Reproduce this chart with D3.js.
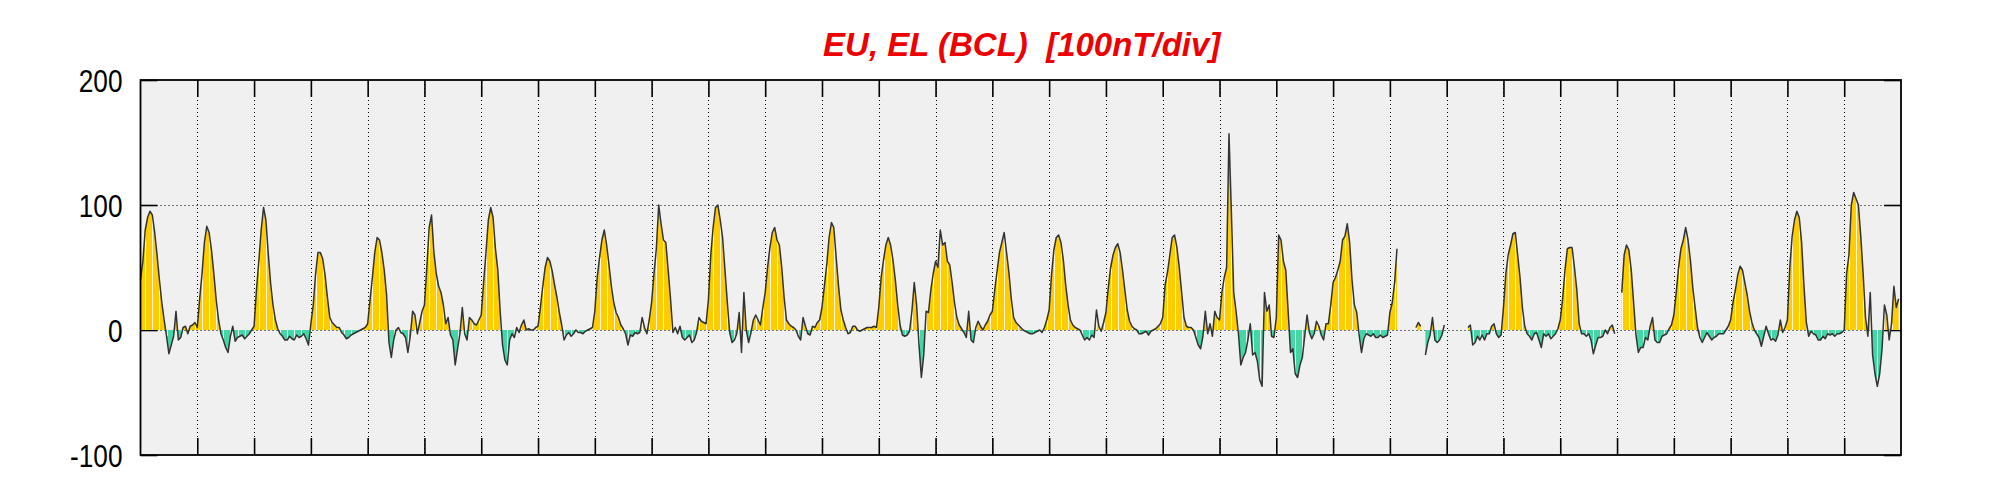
<!DOCTYPE html>
<html>
<head>
<meta charset="utf-8">
<script src="https://cdn.jsdelivr.net/npm/d3@7"></script>
<style>
  html, body { margin: 0; padding: 0; background: #ffffff; }
  svg { display: block; }
  text { white-space: pre; }
</style>
</head>
<body>
<svg id="chart" width="2001" height="500"></svg>
<script>
// ---- Data (hourly EU/EL values, nT, 31 days; null = missing) ----
const title = "EU, EL (BCL)  [100nT/div]";
const yTickValues = [-100, 0, 100, 200];
const yTickLabels = ["-100", "0", "100", "200"];
const dayBoundaries = d3.range(1, 31);   // day separators
const hoursPerDay = 24;
const nDays = 31;

const values = [
  // day 1
  40,55,80,90,95,92,78,60,40,22,8,-5,-19,-12,-5,15,-8,-6,2,3,-3,3,4,6,
  // day 2
  2,25,45,70,83,78,64,45,24,8,-3,-8,-14,-18,-5,3,-9,-6,-5,-4,-7,-5,-3,0,
  // day 3
  3,32,55,80,98,88,61,37,20,8,1,-3,-5,-8,-8,-5,-7,-8,-4,-6,-5,-3,-7,-12,
  // day 4
  5,20,45,62,62,57,44,26,10,6,4,2,2,-2,-4,-7,-6,-4,-3,-2,-1,0,1,2,
  // day 5
  5,24,42,62,74,72,62,48,28,-10,-22,-8,0,2,-2,-3,-6,-18,-5,15,12,-3,6,15,
  // day 6
  20,50,82,92,62,45,35,30,20,5,10,-4,-8,-28,-15,-3,18,-3,-8,10,8,5,4,8,
  // day 7
  12,38,62,88,98,90,65,48,15,-12,-24,-28,-8,-3,-6,2,-2,4,8,0,1,0,0,2,
  // day 8
  3,18,35,50,58,55,47,36,26,14,4,-8,-4,-2,-5,-3,0,-2,-2,-3,-1,0,1,2,
  // day 9
  15,42,58,72,80,68,52,35,22,14,10,4,1,-3,-12,-4,-5,-2,-3,-2,10,2,-3,8,
  // day 10
  22,45,65,100,85,72,70,48,25,-2,2,-3,3,-6,-8,-6,-4,-10,-8,-2,10,7,6,5,
  // day 11
  24,60,82,98,100,88,74,48,22,-2,-10,-8,-3,14,-18,30,0,-10,-2,8,12,8,4,18,
  // day 12
  30,50,66,78,82,72,68,50,26,8,5,3,2,0,-5,-8,10,3,-3,-4,3,2,6,8,
  // day 13
  18,35,52,74,86,82,58,35,16,8,2,-3,-2,3,3,0,-1,0,1,2,2,2,3,2,
  // day 14
  18,42,56,68,74,68,56,40,20,4,-4,-5,-4,-1,15,38,20,-12,-38,-20,15,14,32,45,
  // day 15
  55,50,80,68,70,55,52,38,22,10,4,1,-2,-6,15,-8,-10,2,7,3,0,4,7,12,
  // day 16
  15,32,47,62,70,78,62,46,25,10,6,4,2,0,-1,-2,-3,-3,-2,-1,0,-2,2,8,
  // day 17
  16,44,64,74,76,70,56,36,20,8,4,2,1,0,-4,-8,-6,-8,-4,-6,16,3,-1,6,
  // day 18
  14,34,50,60,66,69,62,48,32,16,7,3,1,0,-3,-3,-2,-1,-4,-1,0,1,3,5,
  // day 19
  10,36,46,60,74,76,66,50,30,10,3,2,2,0,-6,-12,-15,-5,15,-3,5,-5,15,10,
  // day 20
  8,30,42,50,157,95,30,15,-3,-28,-22,-18,-8,5,-20,-18,-25,-40,-45,30,15,20,-5,-6,
  // day 21
  10,76,72,55,48,15,-18,-15,-35,-38,-28,-22,-5,12,-2,-7,-3,7,3,-4,-8,5,5,20,
  // day 22
  38,42,48,55,72,75,85,70,40,20,14,-4,-18,-7,-3,-4,-5,-3,-6,-6,-4,-6,-5,-4,
  // day 23
  14,22,38,65,null,null,null,null,null,null,null,2,6,3,null,-20,-10,-4,10,-8,-10,-8,-4,4,
  // day 24
  null,null,null,null,null,null,null,null,null,2,4,-12,-10,-5,-8,-4,-8,-3,-3,3,5,-3,-6,-4,
  // day 25
  18,45,60,68,77,78,60,42,18,3,-3,-5,-8,-3,-2,-8,-14,-3,-5,-3,-7,-5,-3,1,
  // day 26
  8,25,48,65,66,66,50,32,5,-3,-3,-5,-3,-8,-19,-12,-6,-6,-5,0,-3,2,4,-3,
  // day 27
  null,null,30,60,68,64,48,22,-4,-18,-14,-14,-6,-8,3,10,-8,-10,-10,-5,-4,-3,1,4,
  // day 28
  12,30,50,65,72,82,72,56,34,18,2,-6,-10,-6,-2,-5,-8,-6,-5,-3,-3,-3,0,3,
  // day 29
  8,22,32,44,51,48,38,28,15,6,0,-3,-6,-13,-5,3,-3,-8,-7,-9,-4,8,-2,2,
  // day 30
  8,50,75,88,95,90,70,35,6,-5,-1,-3,-4,-8,-8,-5,-7,-3,-4,-3,-5,-3,-3,-2,
  // day 31
  0,45,60,100,110,105,100,75,45,10,-5,30,-20,-35,-45,-35,-15,20,12,-8,5,35,18,25
];

// ---- Layout ----
const plot = { left: 140.5, right: 1901, top: 80, bottom: 455 };
const colors = {
  bg: "#f0f0f0", pos: "#ffcc00", neg: "#44d6a6", line: "#333333",
  title: "#ee0000", stripe: "#ffffff"
};
const labelScaleX = 0.82;

const svg = d3.select("#chart");
const data = values.map((v, i) => ({ h: i, v: v }));

const x = d3.scaleLinear().domain([0, nDays * hoursPerDay]).range([plot.left, plot.right]);
const y = d3.scaleLinear().domain([-100, 200]).range([plot.bottom, plot.top]);

// background
svg.append("rect")
  .attr("x", plot.left).attr("y", plot.top)
  .attr("width", plot.right - plot.left).attr("height", plot.bottom - plot.top)
  .attr("fill", colors.bg);

// dotted grid
const grid = svg.append("g").attr("stroke", "#000").attr("stroke-width", 1)
  .attr("stroke-dasharray", "1,3").attr("fill", "none");
grid.selectAll("line.v").data(dayBoundaries).join("line").attr("class", "v")
  .attr("x1", d => Math.round(x(d * hoursPerDay)) + 0.5)
  .attr("x2", d => Math.round(x(d * hoursPerDay)) + 0.5)
  .attr("y1", plot.top).attr("y2", plot.bottom);
grid.selectAll("line.h").data([0, 100]).join("line").attr("class", "h")
  .attr("y1", d => Math.round(y(d)) + 0.5).attr("y2", d => Math.round(y(d)) + 0.5)
  .attr("x1", plot.left).attr("x2", plot.right);

// ticks (inside) via axes
const tickLen = 17;
const axTop = svg.append("g").attr("transform", `translate(0,${plot.top})`)
  .call(d3.axisTop(x).tickValues(dayBoundaries.map(d => d * hoursPerDay)).tickSize(-tickLen).tickFormat(""));
const axBot = svg.append("g").attr("transform", `translate(0,${plot.bottom})`)
  .call(d3.axisBottom(x).tickValues(dayBoundaries.map(d => d * hoursPerDay)).tickSize(-tickLen).tickFormat(""));
const axRight = svg.append("g").attr("transform", `translate(${plot.right},0)`)
  .call(d3.axisRight(y).tickValues(yTickValues).tickSize(-tickLen).tickFormat(""));
const axLeft = svg.append("g").attr("transform", `translate(${plot.left},0)`)
  .call(d3.axisLeft(y).tickValues(yTickValues).tickSize(-tickLen).tickPadding(18)
    .tickFormat(d => yTickLabels[yTickValues.indexOf(d)]));
[axTop, axBot, axRight, axLeft].forEach(g => {
  g.select(".domain").remove();
  g.selectAll(".tick line").attr("stroke", "#000").attr("stroke-width", 1.6);
});
axLeft.selectAll(".tick text")
  .attr("fill", "#000")
  .attr("font-family", "'Liberation Sans', Arial, Helvetica, sans-serif")
  .attr("font-size", 32)
  .attr("x", -18 / labelScaleX)
  .attr("transform", `scale(${labelScaleX},1)`)
  .attr("dy", "0.36em");

// clip paths for positive / negative fill
const defs = svg.append("defs");
defs.append("clipPath").attr("id", "clipPos").append("rect")
  .attr("x", plot.left).attr("y", plot.top)
  .attr("width", plot.right - plot.left).attr("height", y(0) - plot.top);
defs.append("clipPath").attr("id", "clipNeg").append("rect")
  .attr("x", plot.left).attr("y", y(0))
  .attr("width", plot.right - plot.left).attr("height", plot.bottom - y(0));

const defined = d => d.v !== null;
const area = d3.area().defined(defined).x(d => x(d.h)).y0(y(0)).y1(d => y(d.v));
svg.append("path").datum(data).attr("d", area).attr("fill", colors.pos).attr("clip-path", "url(#clipPos)");
svg.append("path").datum(data).attr("d", area).attr("fill", colors.neg).attr("clip-path", "url(#clipNeg)");

// white separator stripes in the fill
svg.append("g").selectAll("line")
  .data(data.filter(d => d.v !== null && d.h % 3 === 2))
  .join("line")
  .attr("x1", d => Math.round(x(d.h)) + 0.5).attr("x2", d => Math.round(x(d.h)) + 0.5)
  .attr("y1", y(0)).attr("y2", d => y(d.v))
  .attr("stroke", colors.stripe).attr("stroke-width", 1).attr("stroke-opacity", 0.85);

// trace line
const line = d3.line().defined(defined).x(d => x(d.h)).y(d => y(d.v));
svg.append("path").datum(data).attr("d", line)
  .attr("fill", "none").attr("stroke", colors.line).attr("stroke-width", 1.5)
  .attr("stroke-linejoin", "round");

// frame
svg.append("rect")
  .attr("x", plot.left).attr("y", plot.top)
  .attr("width", plot.right - plot.left).attr("height", plot.bottom - plot.top)
  .attr("fill", "none").attr("stroke", "#000").attr("stroke-width", 1.8);

// title
svg.append("text")
  .attr("x", (plot.left + plot.right) / 2 + 1).attr("y", 56)
  .attr("text-anchor", "middle")
  .attr("font-family", "'Liberation Sans', Arial, Helvetica, sans-serif")
  .attr("font-weight", "bold").attr("font-style", "italic")
  .attr("font-size", 33)
  .attr("fill", colors.title)
  .text(title);
</script>
</body>
</html>
